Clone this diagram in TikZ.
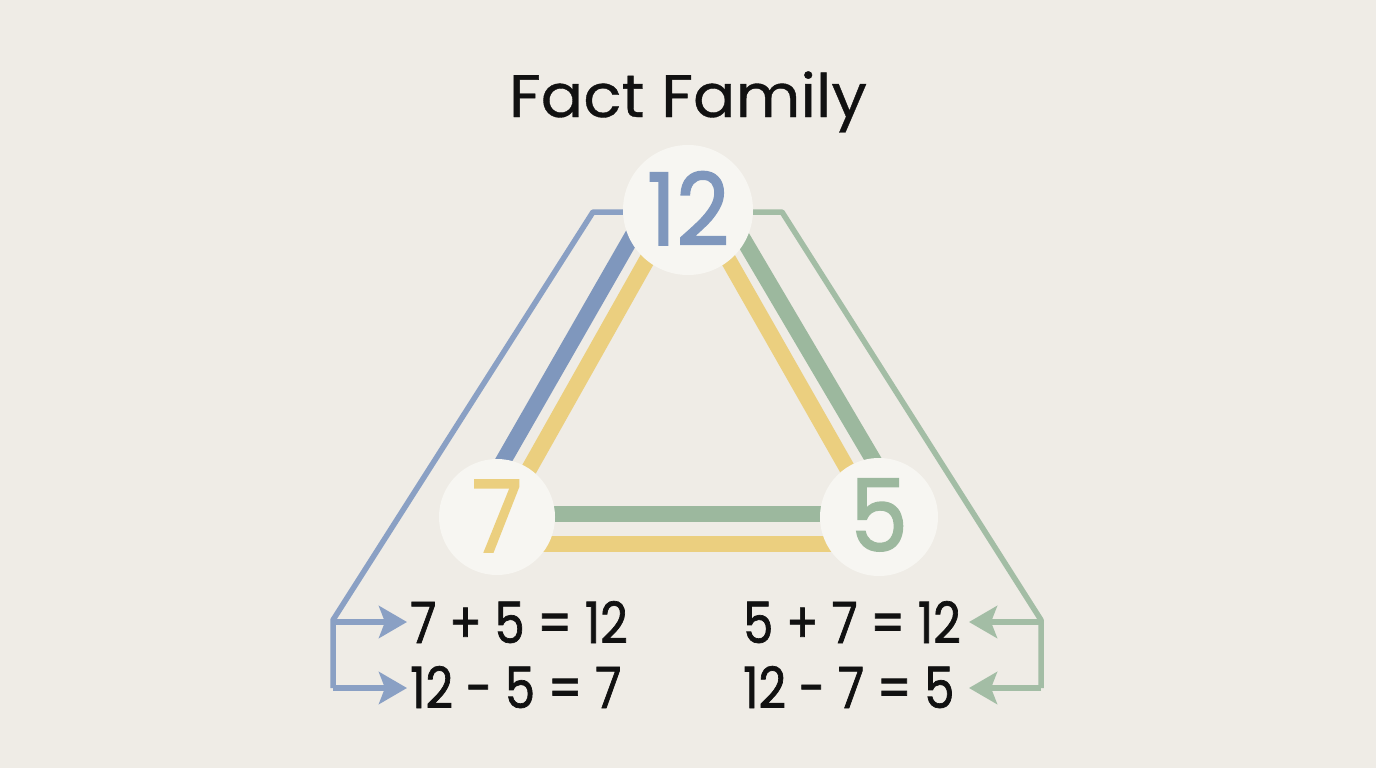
\documentclass[tikz,border=0pt]{standalone}
\usepackage{fontspec}
\setmainfont{Poppins}
\newfontfamily\eqfont[FakeStretch=0.84,FakeBold=1.2]{Poppins}
\newfontfamily\numfont[FakeStretch=0.92,FakeBold=1.6]{Poppins}
\newfontfamily\titlefont[FakeStretch=1.05,FakeBold=0.6]{Poppins}
\usetikzlibrary{arrows.meta}
\definecolor{bg}{HTML}{EFECE6}
\definecolor{circfill}{HTML}{F7F6F2}
\definecolor{cblue}{HTML}{7F97BD}
\definecolor{cbluethin}{HTML}{8AA0C4}
\definecolor{cyellow}{HTML}{EBCF7F}
\definecolor{cgreen}{HTML}{9CB89E}
\definecolor{cgreenthin}{HTML}{A3BDA5}
\definecolor{ink}{HTML}{111111}
\tikzset{
  bar/.style={line width=16pt, line cap=butt},
  thin/.style={line width=5.5pt, line join=round, line cap=butt},
  arr/.style={-{Stealth[length=28pt,width=32pt,inset=6pt]}},
  numcirc/.style={circle, fill=circfill, inner sep=0pt},
  eq/.style={font=\eqfont\fontsize{57}{60}\selectfont, text=ink, inner sep=0pt},
  bignum/.style={font=\numfont\fontsize{100}{100}\selectfont, inner sep=0pt},
}
\begin{document}
\begin{tikzpicture}[x=1pt,y=-1pt]
\fill[bg] (0,0) rectangle (1376,768);
\useasboundingbox (0,0) rectangle (1376,768);

% title
\node[font=\titlefont\fontsize{60}{64}\selectfont, text=ink, inner sep=0pt, anchor=base] (title) at (688,117) {Fact Family};

% connector coordinates
\coordinate (bTop) at (640,212);
\coordinate (bKnee) at (593,212);
\coordinate (bCorner) at (333,620);
\coordinate (bLow) at (333,688);
\coordinate (bA1) at (407,622);
\coordinate (bA2) at (407,688);
\coordinate (gTop) at (736,212);
\coordinate (gKnee) at (782,212);
\coordinate (gCorner) at (1041,620);
\coordinate (gLow) at (1041,688);
\coordinate (gA1) at (969,622);
\coordinate (gA2) at (969,688);

% thin connectors
\draw[thin, cbluethin] (bTop) -- (bKnee) -- (bCorner) -- (bLow);
\draw[thin, cbluethin, arr] (333,622) -- (bA1);
\draw[thin, cbluethin, arr] (bLow) -- (bA2);
\draw[thin, cgreenthin] (gTop) -- (gKnee) -- (gCorner) -- (gLow);
\draw[thin, cgreenthin, arr] (1041,622) -- (gA1);
\draw[thin, cgreenthin, arr] (gLow) -- (gA2);

% thick bars
\draw[bar, cblue] (650,205) -- (478,505);
\draw[bar, cyellow] (675,210) -- (510,503);
\draw[bar, cyellow] (700,210) -- (864,498);
\draw[bar, cgreen] (726,210) -- (894,495);
\draw[bar, cgreen] (497,514) -- (879,514);
\draw[bar, cyellow] (497,544) -- (879,544);

% circles
\node[numcirc, minimum size=130pt] (c12) at (688,210) {};
\node[numcirc, minimum size=116pt] (c7) at (497,517) {};
\node[numcirc, minimum size=118pt] (c5) at (879,517) {};
\node[bignum, text=cblue, anchor=base] (n12) at (688,245) {12};
\node[bignum, text=cyellow, anchor=base] (n7) at (497,552) {7};
\node[bignum, text=cgreen, anchor=base] (n5) at (879,551) {5};

% equations
\node[eq, anchor=base west] (e1) at (410,643) {7 + 5 = 12};
\node[eq, anchor=base west] (e2) at (410,708) {12 - 5 = 7};
\node[eq, anchor=base west] (e3) at (743,643) {5 + 7 = 12};
\node[eq, anchor=base west] (e4) at (743,708) {12 - 7 = 5};
\end{tikzpicture}
\end{document}
